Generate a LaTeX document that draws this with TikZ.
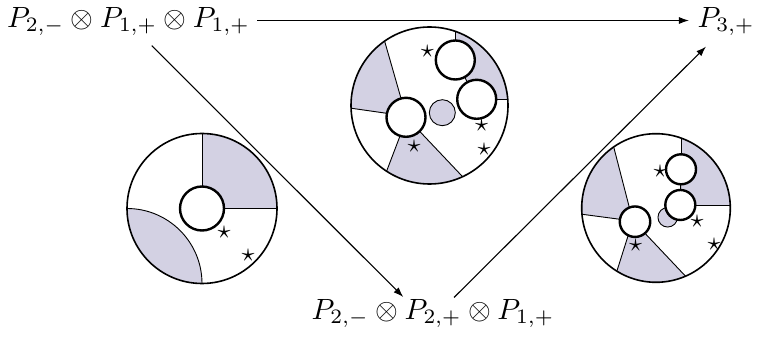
\documentclass[tikz,border=0pt]{standalone}
\usetikzlibrary{calc,arrows.meta}
\definecolor{lav}{RGB}{211,209,227}
\begin{document}
\begin{tikzpicture}[x=1pt,y=-1pt,
  lbl/.style={inner sep=0pt,text height=7pt,text depth=2.5pt,scale=2.93},
  arr/.style={line width=1.1pt,-{Latex[length=10pt,width=7pt]}},
  outerc/.style={draw,line width=1.6pt},
  innerc/.style={draw,line width=2.4pt,fill=white,circle,inner sep=0pt},
  sect/.style={line width=0.9pt},
  grayc/.style={draw,line width=0.9pt,fill=lav,circle,inner sep=0pt},
  st/.style={inner sep=0pt,scale=2.6}]
\useasboundingbox (0,0) rectangle (757,344);

% labels
\node[lbl] (t1) at (128.5,20.5) {$P_{2,-}\otimes P_{1,+}\otimes P_{1,+}$};
\node[lbl] (t2) at (433,312.5) {$P_{2,-}\otimes P_{2,+}\otimes P_{1,+}$};
\node[lbl] (t3) at (726,20.5) {$P_{3,+}$};

\draw[arr,shorten <=7pt,shorten >=8pt] (t1.east) -- (t3.west);
\draw[arr] ([xshift=23.2pt,yshift=-10.6pt]t1.south) -- ([xshift=-29.7pt,yshift=1pt]t2.north);
\draw[arr] ([xshift=21pt,yshift=0.5pt]t2.north) -- ([xshift=-20pt,yshift=-11.6pt]t3.south);

% ---------- left circle ----------
\coordinate (lo) at (202,208.5);
\begin{scope}
  \clip (lo) circle[radius=75];
  \fill[lav] (lo) rectangle ++(90,-90);
  \fill[lav] (127,283.5) circle[radius=75];
  \draw[sect] (127,283.5) circle[radius=75];
  \draw[sect] (lo) -- ++(0,-90);
  \draw[sect] (lo) -- ++(90,0);
\end{scope}
\draw[outerc] (lo) circle[radius=75];
\node[innerc,minimum size=44pt] (la) at (lo) {};
\node[st] (ls1) at (224,232) {$\star$};
\node[st] (ls2) at (248,255) {$\star$};

% ---------- middle circle ----------
\coordinate (mo) at (429.5,105.5);
\coordinate (mA) at (455.3,60);
\coordinate (mB) at (476.7,99.3);
\coordinate (mC) at (406,117.3);
\coordinate (mi1) at (401,98.3);  \coordinate (mo1) at (384.3,40);
\coordinate (mi2) at (386.7,113.3); \coordinate (mo2) at (351.7,108.3);
\coordinate (mi3) at (400,136);   \coordinate (mo3) at (387.7,168.3);
\coordinate (mi4) at (420,131.7); \coordinate (mo4) at (461,175);
\begin{scope}
  \clip (mo) circle[radius=78.5];
  \fill[lav] (mA) -- (455.3,0) -- (540,0) -- (540,99.3) -- (mB) -- cycle;
  \fill[lav] (mC) -- (mi1) -- ($(mi1)!3!(mo1)$) -- ($(mi2)!3!(mo2)$) -- (mi2) -- cycle;
  \fill[lav] (mC) -- (mi3) -- ($(mi3)!4!(mo3)$) -- ($(mi4)!3!(mo4)$) -- (mi4) -- cycle;
  \draw[sect] (mA) -- (455.3,0);
  \draw[sect] (mA) -- (mB);
  \draw[sect] (mB) -- (540,99.3);
  \draw[sect] (mi1) -- ($(mi1)!3!(mo1)$);
  \draw[sect] (mi2) -- ($(mi2)!3!(mo2)$);
  \draw[sect] (mi3) -- ($(mi3)!4!(mo3)$);
  \draw[sect] (mi4) -- ($(mi4)!3!(mo4)$);
\end{scope}
\draw[outerc] (mo) circle[radius=78.5];
\node[grayc,minimum size=26pt] (mg) at (442.3,112.7) {};
\node[innerc,minimum size=39pt] (ma) at (mA) {};
\node[innerc,minimum size=39pt] (mb) at (mB) {};
\node[innerc,minimum size=39pt] (mc) at (mC) {};
\node[st] (ms1) at (427.3,51) {$\star$};
\node[st] (ms2) at (481.7,125) {$\star$};
\node[st] (ms3) at (414,146.7) {$\star$};
\node[st] (ms4) at (484,149.3) {$\star$};

% ---------- right circle ----------
\coordinate (ro) at (656,208);
\coordinate (rD) at (681,169.3);
\coordinate (rE) at (680.3,205);
\coordinate (rF) at (635,221.7);
\coordinate (ri1) at (629.3,207.3); \coordinate (ro1) at (614.3,149.3);
\coordinate (ri2) at (620,219.3);   \coordinate (ro2) at (582.3,214.3);
\coordinate (ri3) at (628.3,235);   \coordinate (ro3) at (616.7,271.7);
\coordinate (ri4) at (645,233.3);   \coordinate (ro4) at (686,276.7);
\begin{scope}
  \clip (ro) circle[radius=74.3];
  \fill[lav] (rD) -- (681,120) -- (745,120) -- (745,205) -- (rE) -- cycle;
  \fill[lav] (rF) -- (ri1) -- ($(ri1)!3!(ro1)$) -- ($(ri2)!3!(ro2)$) -- (ri2) -- cycle;
  \fill[lav] (rF) -- (ri3) -- ($(ri3)!4!(ro3)$) -- ($(ri4)!3!(ro4)$) -- (ri4) -- cycle;
  \draw[sect] (rD) -- (681,120);
  \draw[sect] (rD) -- (rE);
  \draw[sect] (rE) -- (745,205);
  \draw[sect] (ri1) -- ($(ri1)!3!(ro1)$);
  \draw[sect] (ri2) -- ($(ri2)!3!(ro2)$);
  \draw[sect] (ri3) -- ($(ri3)!4!(ro3)$);
  \draw[sect] (ri4) -- ($(ri4)!3!(ro4)$);
\end{scope}
\draw[outerc] (ro) circle[radius=74.3];
\node[grayc,minimum size=19.5pt] (rg) at (667.7,217.3) {};
\node[innerc,minimum size=30pt] (rd) at (rD) {};
\node[innerc,minimum size=30pt] (re) at (rE) {};
\node[innerc,minimum size=30.5pt] (rf) at (rF) {};
\node[st] (rs1) at (660,171) {$\star$};
\node[st] (rs2) at (697,221.7) {$\star$};
\node[st] (rs3) at (635.7,245.7) {$\star$};
\node[st] (rs4) at (714,244.3) {$\star$};
\end{tikzpicture}
\end{document}
